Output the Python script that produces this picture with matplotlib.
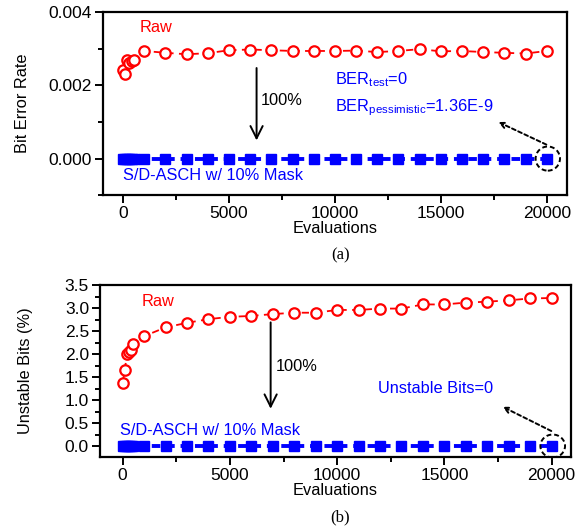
import matplotlib
matplotlib.use("Agg")
import matplotlib.pyplot as plt
from matplotlib.patches import Ellipse
from matplotlib.ticker import MultipleLocator, FormatStrFormatter

plt.rcParams['font.family'] = ['Liberation Sans', 'DejaVu Sans']
FS = 11.8
TFS = 12.5

# Data
evals = [0, 100, 200, 300, 400, 500, 1000, 2000, 3000, 4000, 5000, 6000, 7000,
         8000, 9000, 10000, 11000, 12000, 13000, 14000, 15000, 16000, 17000,
         18000, 19000, 20000]
ber_raw = [0.00241, 0.00230, 0.00268, 0.00261, 0.00266, 0.00270, 0.00294,
           0.00289, 0.00285, 0.00288, 0.00296, 0.00298, 0.00296, 0.00294,
           0.00294, 0.00294, 0.00295, 0.00291, 0.00294, 0.00299, 0.00293,
           0.00294, 0.00291, 0.00289, 0.00287, 0.00294]
ber_mask = [0.0] * len(evals)

unst_raw = [1.38, 1.65, 2.00, 2.05, 2.09, 2.22, 2.39, 2.58, 2.68, 2.76, 2.81,
            2.83, 2.87, 2.90, 2.90, 2.96, 2.96, 2.99, 2.99, 3.08, 3.08, 3.12,
            3.14, 3.17, 3.21, 3.22]
unst_mask = [0.0] * len(evals)

RED = '#ff0000'
BLUE = '#0000ff'

fig = plt.figure(figsize=(5.82, 5.29), dpi=100)
ax1 = fig.add_axes([0.177, 0.631, 0.797, 0.346])
ax2 = fig.add_axes([0.172, 0.136, 0.809, 0.325])

def style(ax):
    for s in ax.spines.values():
        s.set_linewidth(1.6)
    ax.tick_params(axis='both', which='major', length=6, width=1.4,
                   labelsize=TFS, direction='out', pad=2)
    ax.tick_params(axis='both', which='minor', length=3.5, width=1.4,
                   direction='out')
    ax.xaxis.set_major_locator(MultipleLocator(5000))
    ax.xaxis.set_minor_locator(MultipleLocator(2500))
    ax.set_xlabel('Evaluations', fontsize=FS, labelpad=0)

def draw(ax, raw, mask):
    ax.plot(evals, raw, linestyle=(0, (4, 3)), color=RED, lw=1.3,
            marker='o', markersize=7.5, markerfacecolor='white',
            markeredgecolor=RED, markeredgewidth=1.6, zorder=3)
    ax.plot(evals, mask, linestyle=(0, (2.2, 1.5)), color=BLUE, lw=2.8,
            marker='s', markersize=6.5, markerfacecolor=BLUE,
            markeredgecolor=BLUE, zorder=3)

# Top panel
draw(ax1, ber_raw, ber_mask)
style(ax1)
ax1.set_xlim(-950, 20950)
ax1.set_ylim(-0.001, 0.004)
ax1.yaxis.set_major_locator(MultipleLocator(0.002))
ax1.yaxis.set_minor_locator(MultipleLocator(0.001))
ax1.yaxis.set_major_formatter(FormatStrFormatter('%.3f'))
ax1.set_ylabel('Bit Error Rate', fontsize=FS)
ax1.yaxis.set_label_coords(-0.158, 0.5)
ax1.text(800, 0.00345, 'Raw', color=RED, fontsize=FS)
ax1.annotate('', xy=(6300, 0.00042), xytext=(6300, 0.00255),
             arrowprops=dict(arrowstyle='->', color='black', lw=1.4,
                             mutation_scale=22))
ax1.text(6500, 0.00158, '100%', fontsize=FS, va='center')
ax1.text(10000, 0.00215, r'BER$_{\mathregular{test}}$=0', color=BLUE,
         fontsize=FS, va='center')
ax1.text(10000, 0.00140, r'BER$_{\mathregular{pessimistic}}$=1.36E-9',
         color=BLUE, fontsize=FS, va='center')
ax1.text(0, -0.00047, 'S/D-ASCH w/ 10% Mask', color=BLUE, fontsize=FS,
         va='center')
ax1.annotate('', xy=(17600, 0.00103), xytext=(20100, 0.00035),
             arrowprops=dict(arrowstyle='->', color='black', lw=1.4,
                             linestyle=(0, (2, 1.5)), mutation_scale=10))
ax1.add_patch(Ellipse((20050, 0.0), 1150, 0.00066, fill=False,
                      edgecolor='black', lw=1.4, linestyle=(0, (2.5, 1.5)),
                      zorder=4))

# Bottom panel
draw(ax2, unst_raw, unst_mask)
style(ax2)
ax2.set_xlim(-1050, 20900)
ax2.set_ylim(-0.24, 3.5)
ax2.yaxis.set_major_locator(MultipleLocator(0.5))
ax2.yaxis.set_minor_locator(MultipleLocator(0.25))
ax2.yaxis.set_major_formatter(FormatStrFormatter('%.1f'))
ax2.set_ylabel('Unstable Bits (%)', fontsize=FS)
ax2.yaxis.set_label_coords(-0.143, 0.5)
ax2.text(900, 3.05, 'Raw', color=RED, fontsize=FS)
ax2.annotate('', xy=(6900, 0.75), xytext=(6900, 2.75),
             arrowprops=dict(arrowstyle='->', color='black', lw=1.4,
                             mutation_scale=22))
ax2.text(7150, 1.72, '100%', fontsize=FS, va='center')
ax2.text(11900, 1.25, 'Unstable Bits=0', color=BLUE, fontsize=FS,
         va='center')
ax2.text(-100, 0.33, 'S/D-ASCH w/ 10% Mask', color=BLUE, fontsize=FS,
         va='center')
ax2.annotate('', xy=(17600, 0.88), xytext=(20100, 0.30),
             arrowprops=dict(arrowstyle='->', color='black', lw=1.4,
                             linestyle=(0, (2, 1.5)), mutation_scale=10))
ax2.add_patch(Ellipse((20050, 0.0), 1150, 0.5, fill=False,
                      edgecolor='black', lw=1.4, linestyle=(0, (2.5, 1.5)),
                      zorder=4))

fig.text(0.586, 0.518, '(a)', fontsize=12, family='Liberation Serif',
         ha='center', va='center')
fig.text(0.584, 0.022, '(b)', fontsize=12, family='Liberation Serif',
         ha='center', va='center')

fig.savefig('out.png', dpi=100)
